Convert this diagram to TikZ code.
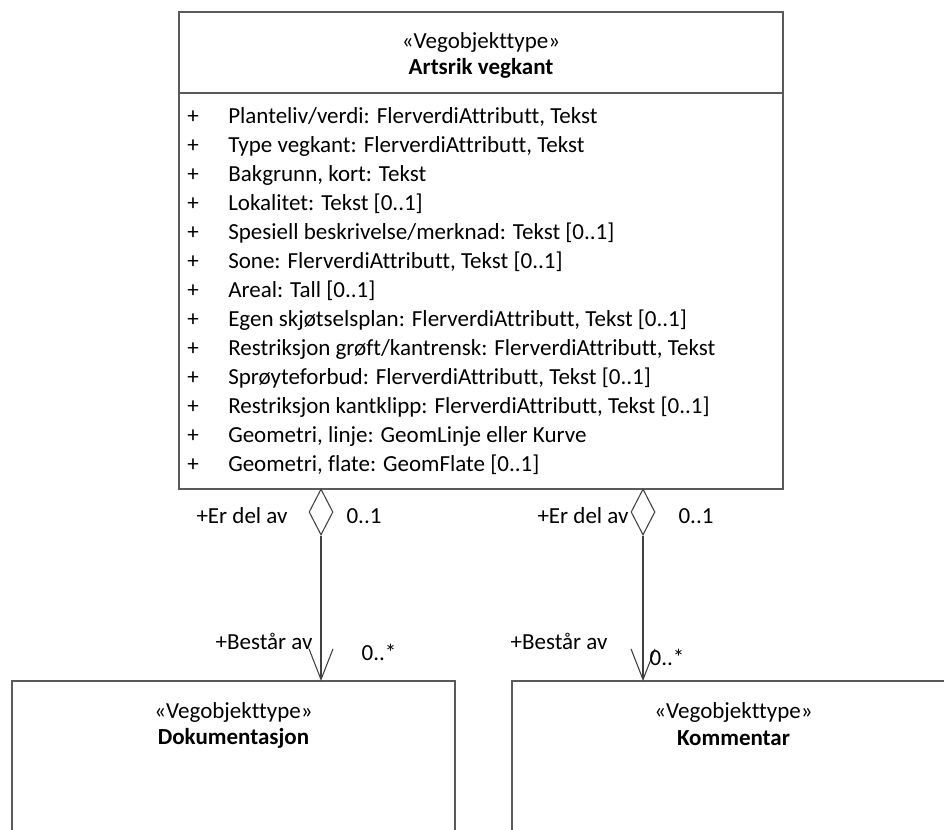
\documentclass[tikz,border=0pt]{standalone}
\usepackage{fontspec}
\setmainfont{Carlito}[Ligatures={NoCommon}]
\usetikzlibrary{arrows.meta,shapes.geometric}
\definecolor{boxline}{HTML}{5A5A5A}
\definecolor{conline}{HTML}{404040}
\newcommand{\umlfont}{\fontsize{17.25}{20}\selectfont}
\tikzset{
  umlbox/.style={draw=boxline, line width=1.3pt, rectangle, inner sep=0pt},
  stereo/.style={font=\umlfont, inner sep=0pt, anchor=center},
  cname/.style={font=\umlfont\bfseries, inner sep=0pt, anchor=center},
  attr/.style={font=\umlfont, inner sep=0pt, anchor=west},
  plus/.style={font=\umlfont, inner sep=0pt, anchor=center},
  lbl/.style={font=\umlfont, inner sep=0pt, anchor=center},
  agg/.style={draw=conline, line width=0.8pt, diamond, fill=white, inner sep=0pt,
              minimum width=18pt, minimum height=34.5pt},
  conn/.style={draw=conline, line width=0.8pt, -{Straight Barb[length=23pt,width=18pt,line width=0.8pt]}}
}
\begin{document}
\begin{tikzpicture}[x=0.75pt,y=-0.75pt]
\clip (0,0) rectangle (944,830);
\fill[white] (0,0) rectangle (944,830);

% main class
\node[umlbox, minimum width=453pt, minimum height=357.75pt] (main) at (481,250.5) {};
\draw[boxline, line width=1.3pt] (main.north west) ++(0,82) coordinate (divL) -- ++(604,0) coordinate (divR);
\node[stereo] (mst) at (481,42) {«Vegobjekttype»};
\node[cname] (mnm) at (481,68) {Artsrik vegkant};

\foreach \i/\t in {0/{Planteliv/verdi: FlerverdiAttributt, Tekst},
                   1/{Type vegkant: FlerverdiAttributt, Tekst},
                   2/{Bakgrunn, kort: Tekst},
                   3/{Lokalitet: Tekst [0..1]},
                   4/{Spesiell beskrivelse/merknad: Tekst [0..1]},
                   5/{Sone: FlerverdiAttributt, Tekst [0..1]},
                   6/{Areal: Tall [0..1]},
                   7/{Egen skjøtselsplan: FlerverdiAttributt, Tekst [0..1]},
                   8/{Restriksjon grøft/kantrensk: FlerverdiAttributt, Tekst},
                   9/{Sprøyteforbud: FlerverdiAttributt, Tekst [0..1]},
                   10/{Restriksjon kantklipp: FlerverdiAttributt, Tekst [0..1]},
                   11/{Geometri, linje: GeomLinje eller Kurve},
                   12/{Geometri, flate: GeomFlate [0..1]}}{
  \node[plus] (p\i) at (193,{117+29*\i}) {+};
  \node[attr] (a\i) at (228,{117+29*\i}) {\t};
}

% lower classes
\node[umlbox, minimum width=332.25pt, minimum height=150pt] (dok) at (233.5,781) {};
\node[stereo] (dst) at (233.5,712) {«Vegobjekttype»};
\node[cname] (dnm) at (233.5,738) {Dokumentasjon};

\node[umlbox, minimum width=332.25pt, minimum height=150pt] (kom) at (733.5,781) {};
\node[stereo] (kst) at (733.5,712) {«Vegobjekttype»};
\node[cname] (knm) at (733.5,738) {Kommentar};

% aggregation diamonds
\node[agg] (d1) at (321,512) {};
\node[agg] (d2) at (643,512) {};

% connectors
\coordinate (t1) at (321,681);
\coordinate (t2) at (643,681);
\draw[conn] (d1.south) -- (t1);
\draw[conn] (d2.south) -- (t2);

% labels
\node[lbl] (l1) at (242,516) {+Er del av};
\node[lbl] (l2) at (364,516) {0..1};
\node[lbl] (l3) at (583,516) {+Er del av};
\node[lbl] (l4) at (696,516) {0..1};
\node[lbl] (l5) at (264,641) {+Består av};
\node[lbl] (l6) at (379,652) {0..*};
\node[lbl] (l7) at (559,641) {+Består av};
\node[lbl] (l8) at (667,657) {0..*};
\end{tikzpicture}
\end{document}
